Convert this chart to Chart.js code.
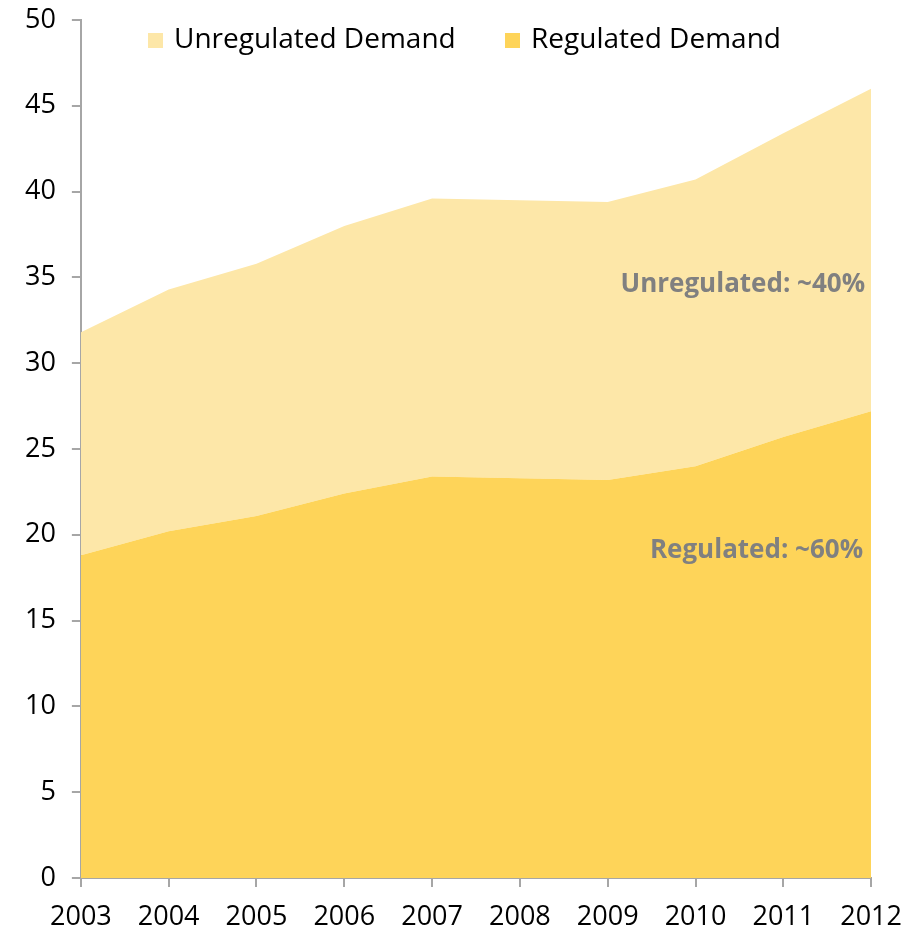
<!DOCTYPE html>
<html>
<head>
<meta charset="utf-8">
<script src="https://cdn.jsdelivr.net/npm/chart.js@4.4.0/dist/chart.umd.min.js"></script>
<style>
  html, body { margin: 0; padding: 0; background: #fff; }
  #wrap { width: 909px; height: 932px; }
</style>
</head>
<body>
<div id="wrap"><canvas id="grafik"></canvas></div>
<script>
// data
const tahun = ['2003', '2004', '2005', '2006', '2007', '2008', '2009', '2010', '2011', '2012'];
const regulated = [18.8, 20.2, 21.1, 22.4, 23.4, 23.3, 23.2, 24.0, 25.7, 27.2];
const unregulated = [13.0, 14.1, 14.7, 15.6, 16.2, 16.2, 16.2, 16.7, 17.7, 18.8];
const yTicks = [0, 5, 10, 15, 20, 25, 30, 35, 40, 45, 50];

const warnaReg = '#FED459';
const warnaUnreg = '#FDE7A8';
const huruf = "'Open Sans', 'Liberation Sans', sans-serif";

// legend dan label teks digambar sendiri
const legendaPlugin = {
    id: 'legenda',
    afterDraw(chart) {
        const ctx = chart.ctx;
        const y = chart.scales.y;
        const area = chart.chartArea;
        ctx.save();
        ctx.font = '28px ' + huruf;
        ctx.textBaseline = 'middle';
        ctx.textAlign = 'left';
        const items = [
            { teks: 'Unregulated Demand', warna: warnaUnreg, x: 148 },
            { teks: 'Regulated Demand', warna: warnaReg, x: 505 }
        ];
        items.forEach(it => {
            ctx.fillStyle = it.warna;
            ctx.fillRect(it.x, 33, 15, 15);
            ctx.fillStyle = '#000';
            ctx.fillText(it.teks, it.x + 26, 40);
        });

        ctx.font = 'bold 26px ' + huruf;
        ctx.fillStyle = '#808080';
        ctx.textAlign = 'right';
        ctx.fillText('Unregulated: ~40%', area.right - 6, y.getPixelForValue(34.6));
        ctx.fillText('Regulated: ~60%', area.right - 8, y.getPixelForValue(19.1));
        ctx.restore();
    }
};

const data = {
    labels: tahun,
    datasets: [{
        label: 'Regulated Demand',
        data: regulated,
        backgroundColor: warnaReg,
        borderWidth: 0,
        pointRadius: 0,
        fill: 'origin',
        tension: 0
    }, {
        label: 'Unregulated Demand',
        data: unregulated,
        backgroundColor: warnaUnreg,
        borderWidth: 0,
        pointRadius: 0,
        fill: '-1',
        tension: 0
    }]
};

const config = {
    type: 'line',
    data: data,
    plugins: [legendaPlugin],
    options: {
        responsive: true,
        maintainAspectRatio: false,
        animation: false,
        layout: {
            padding: { top: 20, right: 4, left: 9, bottom: 0 }
        },
        plugins: {
            legend: { display: false },
            tooltip: { enabled: false }
        },
        scales: {
            x: {
                offset: false,
                afterFit(scale) {
                    scale.height = 54;
                    scale.paddingRight -= 7;
                    scale.paddingLeft -= 7;
                },
                grid: {
                    drawOnChartArea: false,
                    drawTicks: true,
                    tickLength: 9,
                    color: '#A6A6A6',
                    lineWidth: 2
                },
                border: { display: true, color: '#A6A6A6', width: 2 },
                ticks: {
                    color: '#000',
                    font: { size: 27, family: huruf },
                    padding: 14,
                    maxRotation: 0,
                    autoSkip: false
                }
            },
            y: {
                stacked: true,
                min: 0,
                max: 50,
                afterBuildTicks(scale) {
                    scale.ticks = yTicks.map(v => ({ value: v }));
                },
                afterFit(scale) {
                    scale.paddingTop = 0;
                    scale.paddingBottom = 0;
                },
                grid: {
                    drawOnChartArea: false,
                    drawTicks: true,
                    tickLength: 9,
                    color: '#A6A6A6',
                    lineWidth: 2
                },
                border: { display: true, color: '#A6A6A6', width: 2 },
                ticks: {
                    color: '#000',
                    font: { size: 27, family: huruf },
                    padding: 16
                }
            }
        }
    }
};

var grafik = new Chart(document.getElementById('grafik'), config);
</script>
</body>
</html>
